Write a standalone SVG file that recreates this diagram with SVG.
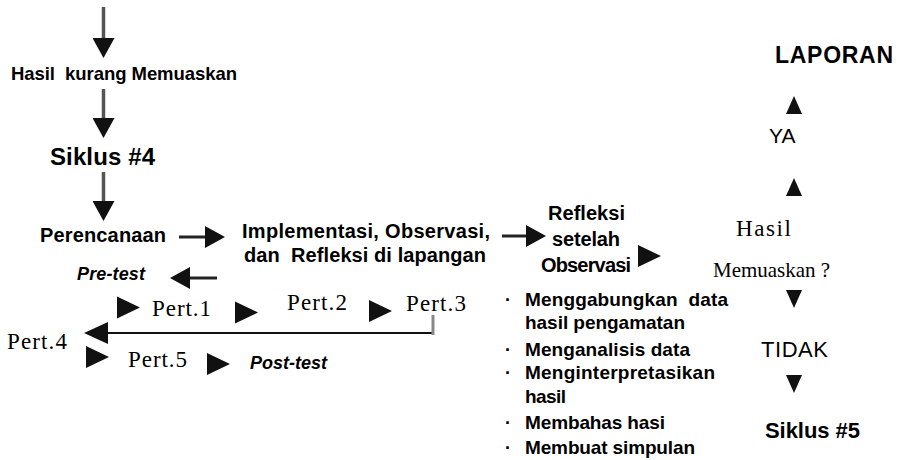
<svg xmlns="http://www.w3.org/2000/svg" width="903" height="460" viewBox="0 0 903 460">
<style>
text{fill:#000}
.b{font-family:"Liberation Sans",Arial,sans-serif;font-weight:bold}
.bi{font-family:"Liberation Sans",Arial,sans-serif;font-weight:bold;font-style:italic}
.r{font-family:"Liberation Sans",Arial,sans-serif}
.s{font-family:"Liberation Serif","Times New Roman",serif}
.li{font-family:"Liberation Sans",Arial,sans-serif;font-weight:bold;font-size:19px}
.dot{font-family:"Liberation Sans",Arial,sans-serif;font-weight:bold;font-size:18px}
.vline{stroke:#555;stroke-width:3.5;fill:none}
.hline{stroke:#222;stroke-width:3;fill:none}
.tri{fill:#111}
</style>
<defs>
<marker id="ah" viewBox="0 0 20 22" refX="0" refY="11" markerWidth="20" markerHeight="22" markerUnits="userSpaceOnUse" orient="auto">
<path d="M0,0 L20,11 L0,22 Z" fill="#111"/>
</marker>
<marker id="ahL" viewBox="0 0 24 22" refX="0" refY="11" markerWidth="24" markerHeight="22" markerUnits="userSpaceOnUse" orient="auto">
<path d="M0,0 L24,11 L0,22 Z" fill="#111"/>
</marker>
<path id="tr" d="M0,-11 L23,0 L0,11 Z"/>
<path id="tu" d="M-8,9 L0,-9 L8,9 Z"/>
<path id="td" d="M-8,-9 L0,9 L8,-9 Z"/>
</defs>

<g id="connectors">
<line class="vline" x1="103.5" y1="7" x2="103.5" y2="38" marker-end="url(#ah)"/>
<line class="vline" x1="103.5" y1="89" x2="103.5" y2="118" marker-end="url(#ah)"/>
<line class="vline" x1="103.5" y1="172" x2="103.5" y2="201" marker-end="url(#ah)"/>
<line class="hline" x1="179" y1="237" x2="205" y2="237" marker-end="url(#ah)"/>
<line class="hline" x1="502" y1="236" x2="526" y2="236" marker-end="url(#ah)"/>
<line class="hline" x1="217" y1="278" x2="190" y2="278" marker-end="url(#ah)"/>
<line stroke="#111" stroke-width="2.2" x1="433" y1="333" x2="108" y2="333" marker-end="url(#ahL)"/>
<line stroke="#888" stroke-width="3" x1="433" y1="315" x2="433" y2="335"/>
<use href="#tr" class="tri" x="117" y="307.5"/>
<use href="#tr" class="tri" x="235" y="312.5"/>
<use href="#tr" class="tri" x="369" y="311"/>
<use href="#tr" class="tri" x="86" y="357"/>
<use href="#tr" class="tri" x="207" y="364"/>
<use href="#tr" class="tri" x="638" y="256"/>
<use href="#tu" class="tri" x="794" y="105"/>
<use href="#tu" class="tri" x="794" y="187"/>
<use href="#td" class="tri" x="794" y="299"/>
<use href="#td" class="tri" x="794" y="384"/>
</g>

<g id="hasil-kurang"><text class="b" x="11" y="80" font-size="18.5" textLength="226" xml:space="preserve">Hasil  kurang Memuaskan</text></g>
<g id="siklus4"><text class="b" x="50" y="165" font-size="24" textLength="105">Siklus #4</text></g>
<g id="perencanaan"><text class="b" x="40" y="242" font-size="20" textLength="126">Perencanaan</text></g>
<g id="implementasi">
<text class="b" x="242" y="238" font-size="20" textLength="248">Implementasi, Observasi,</text>
<text class="b" x="244" y="262" font-size="20" textLength="242" xml:space="preserve">dan  Refleksi di lapangan</text>
</g>
<g id="refleksi">
<text class="b" x="548" y="220" font-size="20" textLength="77">Refleksi</text>
<text class="b" x="552" y="246" font-size="20" textLength="68">setelah</text>
<text class="b" x="541" y="272" font-size="20" textLength="90">Observasi</text>
</g>
<g id="pretest"><text class="bi" x="77" y="280" font-size="18" textLength="68">Pre-test</text></g>
<g id="pert1"><text class="s" x="152" y="316" font-size="23" textLength="59">Pert.1</text></g>
<g id="pert2"><text class="s" x="287" y="310" font-size="23" textLength="60">Pert.2</text></g>
<g id="pert3"><text class="s" x="406" y="311" font-size="23" textLength="60">Pert.3</text></g>
<g id="pert4"><text class="s" x="7" y="349" font-size="23" textLength="60">Pert.4</text></g>
<g id="pert5"><text class="s" x="128" y="367" font-size="23" textLength="59">Pert.5</text></g>
<g id="posttest"><text class="bi" x="250" y="369" font-size="18" textLength="77">Post-test</text></g>

<g id="langkah-refleksi">
<text class="dot" x="505" y="306">·</text>
<text class="li" x="525" y="306" textLength="203" xml:space="preserve">Menggabungkan  data</text>
<text class="li" x="525" y="329" textLength="160">hasil pengamatan</text>
<text class="dot" x="505" y="356">·</text>
<text class="li" x="525" y="356" textLength="165">Menganalisis data</text>
<text class="dot" x="505" y="379">·</text>
<text class="li" x="525" y="379" textLength="190">Menginterpretasikan</text>
<text class="li" x="525" y="403" textLength="41">hasil</text>
<text class="dot" x="505" y="429">·</text>
<text class="li" x="525" y="429" textLength="140">Membahas hasi</text>
<text class="dot" x="505" y="454">·</text>
<text class="li" x="525" y="454" textLength="170">Membuat simpulan</text>
</g>

<g id="laporan"><text class="b" x="775" y="63" font-size="23" textLength="118">LAPORAN</text></g>
<g id="ya"><text class="r" x="769" y="143" font-size="21">YA</text></g>
<g id="hasil-memuaskan">
<text class="s" x="736" y="236" font-size="23" textLength="55">Hasil</text>
<text class="s" x="713" y="277" font-size="21" textLength="117">Memuaskan ?</text>
</g>
<g id="tidak"><text class="r" x="761" y="357" font-size="22" textLength="67">TIDAK</text></g>
<g id="siklus5"><text class="b" x="765" y="438" font-size="22" textLength="95">Siklus #5</text></g>
</svg>
